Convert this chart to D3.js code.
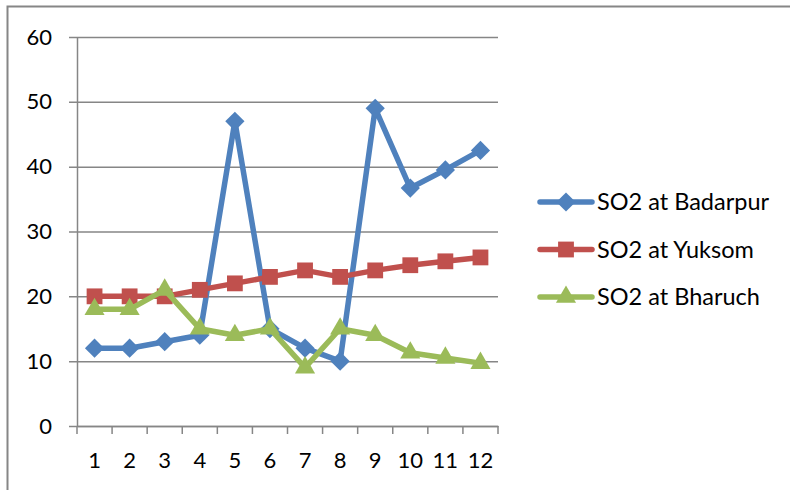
<!DOCTYPE html>
<html>
<head>
<meta charset="utf-8">
<script src="https://cdn.jsdelivr.net/npm/d3@7"></script>
<style>
  body { margin: 0; background: #fff; }
  svg { display: block; font-family: Lato, "Liberation Sans", sans-serif; }
</style>
</head>
<body>
<svg id="chart" width="790" height="490"></svg>
<script>
const months = ["1","2","3","4","5","6","7","8","9","10","11","12"];
const yTicks = [0, 10, 20, 30, 40, 50, 60];
const badarpur = [12, 12, 13, 14, 47, 15, 12, 10, 49, 36.7, 39.5, 42.5];
const yuksom   = [20, 20, 20, 21, 22, 23, 24, 23, 24, 24.8, 25.4, 26];
const bharuch  = [18, 18, 21, 15, 14, 15, 9, 15, 14, 11.3, 10.5, 9.7];

// diamond = square turned 45deg (d3's own diamond is too tall)
const squareDiamond = {
  draw(ctx, size) {
    const r = Math.sqrt(size / 2);
    ctx.moveTo(0, -r); ctx.lineTo(r, 0); ctx.lineTo(0, r); ctx.lineTo(-r, 0); ctx.closePath();
  }
};

const series = [
  { name: "SO2 at Badarpur", values: badarpur, color: "#4F81BD", shape: squareDiamond,    size: 185 },
  { name: "SO2 at Yuksom",   values: yuksom,   color: "#C0504D", shape: d3.symbolSquare,  size: 250 },
  { name: "SO2 at Bharuch",  values: bharuch,  color: "#9BBB59", shape: d3.symbolTriangle, size: 175 }
];

const svg = d3.select("#chart");
const grid = "#868686";
const FONT = "Lato, 'Liberation Sans', sans-serif";

// outer chart border (runs off the right/bottom edge like the source)
svg.append("rect")
  .attr("x", 7.5).attr("y", 6.5)
  .attr("width", 800).attr("height", 500)
  .attr("fill", "none").attr("stroke", grid).attr("stroke-width", 2);

const pLeft = 77, pRight = 498, pTop = 37, pBottom = 426;

const x = d3.scaleBand().domain(months).range([pLeft, pRight]);
const y = d3.scaleLinear().domain([0, 60]).range([pBottom, pTop]);
const xc = d => x(d) + x.bandwidth() / 2;

// horizontal gridlines with little outside ticks
svg.append("g")
  .selectAll("line")
  .data(yTicks)
  .join("line")
  .attr("x1", pLeft - 8).attr("x2", pRight)
  .attr("y1", d => y(d) + 0.5).attr("y2", d => y(d) + 0.5)
  .attr("stroke", grid).attr("stroke-width", 1.5);

// y axis
const yAxis = svg.append("g")
  .attr("transform", `translate(${pLeft},0)`)
  .call(d3.axisLeft(y).tickValues(yTicks).tickSize(0).tickPadding(25));
yAxis.select(".domain").attr("stroke", grid).attr("stroke-width", 1.5);
yAxis.selectAll("text").attr("font-size", 22).attr("fill", "#000").attr("font-family", FONT);

// x axis: ticks between categories
const xAxis = svg.append("g")
  .attr("transform", `translate(0,${pBottom})`)
  .call(d3.axisBottom(x).tickSize(0).tickPadding(26));
xAxis.select(".domain").attr("stroke", grid).attr("stroke-width", 1.5);
xAxis.selectAll("text").attr("font-size", 22).attr("fill", "#000").attr("font-family", FONT);
xAxis.append("g")
  .selectAll("line")
  .data(months.concat(["end"]))
  .join("line")
  .attr("x1", (d, i) => pLeft + i * x.bandwidth())
  .attr("x2", (d, i) => pLeft + i * x.bandwidth())
  .attr("y1", 0).attr("y2", 8)
  .attr("stroke", grid).attr("stroke-width", 1.5);

const line = d3.line()
  .x((d, i) => xc(months[i]))
  .y(d => y(d));

series.forEach(s => {
  const g = svg.append("g");
  g.append("path")
    .attr("d", line(s.values))
    .attr("fill", "none")
    .attr("stroke", s.color)
    .attr("stroke-width", 5.5)
    .attr("stroke-linejoin", "round");
  g.selectAll("path.m")
    .data(s.values)
    .join("path")
    .attr("class", "m")
    .attr("d", d3.symbol().type(s.shape).size(s.size))
    .attr("transform", (d, i) => `translate(${xc(months[i])},${y(d)})`)
    .attr("fill", s.color);
});

// legend
const legend = svg.append("g");
series.forEach((s, i) => {
  const ly = 202 + i * 47.5;
  legend.append("line")
    .attr("x1", 540).attr("x2", 592)
    .attr("y1", ly).attr("y2", ly)
    .attr("stroke", s.color).attr("stroke-width", 5.5)
    .attr("stroke-linecap", "round");
  legend.append("path")
    .attr("d", d3.symbol().type(s.shape).size(s.size))
    .attr("transform", `translate(566,${ly})`)
    .attr("fill", s.color);
  legend.append("text")
    .attr("x", 597).attr("y", ly)
    .attr("dy", "0.35em")
    .attr("font-size", 23.5)
    .text(s.name);
});
</script>
</body>
</html>
